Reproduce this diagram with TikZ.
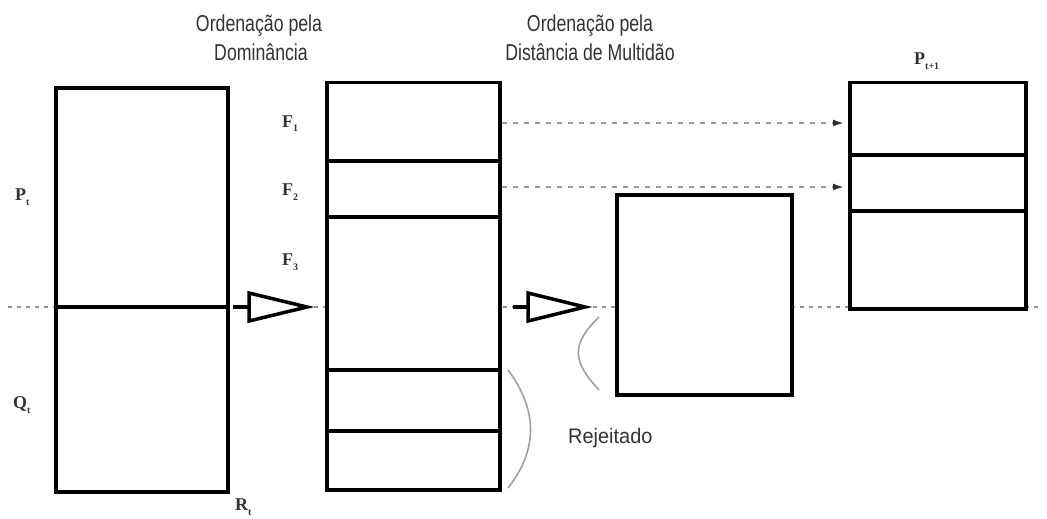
\documentclass[tikz,border=0pt]{standalone}
\usepackage{fontspec}
\setmainfont{Liberation Serif}
\setsansfont{Liberation Sans}
\usetikzlibrary{arrows.meta}

% serif label with a lowered, small index
\newcommand{\poplabel}[2]{#1\raisebox{-5pt}{\fontsize{10}{10}\selectfont #2}}
% narrow sans text
\newcommand{\narrow}[1]{\scalebox{0.77}[1]{#1}}

\begin{document}
\begin{tikzpicture}[x=1pt,y=-1pt,
  popbox/.style={draw=black,line width=3.5pt,fill=white,inner sep=0pt,
                 anchor=north west},
  divider/.style={line width=3.5pt},
  midline/.style={gray!85,line width=1.8pt,dash pattern=on 4pt off 5pt},
  copyline/.style={gray!80,line width=1.8pt,dash pattern=on 5pt off 6pt,
                   -{Latex[length=11pt,width=7pt,fill=black!80,color=black!80]},
                   shorten >=4pt},
  bigarrow/.style={line width=3.5pt,fill=white,line join=miter},
  bracket/.style={gray!75,line width=1.6pt},
  title/.style={font=\fontsize{23}{23}\selectfont\sffamily,text=black!80,
                anchor=base,inner sep=0pt},
  poplab/.style={font=\fontsize{18}{18}\selectfont\bfseries,text=black!80,
                 anchor=base west,inner sep=0pt}]
\useasboundingbox (0,0) rectangle (1047,519);

% dotted level line across the whole figure
\draw[midline] (8,307) -- (1040,307);

% union of parent and offspring populations
\node[popbox,minimum width=172pt,minimum height=404pt] (R) at (54,86) {};
\draw[divider] (54,307) -- (226,307);

% fronts after non-dominated sorting
\node[popbox,minimum width=173pt,minimum height=407pt] (F) at (325,81) {};
\foreach \y in {161,217,370,431} \draw[divider] (325,\y) -- (498,\y);

% last front, sorted by crowding distance
\node[popbox,minimum width=175pt,minimum height=200pt] (C) at (615,193) {};

% next population
\node[popbox,minimum width=176pt,minimum height=226pt] (N) at (848,81) {};
\foreach \y in {155,211} \draw[divider] (848,\y) -- (1024,\y);

% big open arrows
\coordinate (a1) at (233,307);
\coordinate (a2) at (513,307);
\draw[line width=3.5pt] (a1) -- ++(16,0);
\draw[bigarrow] ([xshift=16pt]a1) ++(0,-14) -- ++(58,14) -- ++(-58,14) -- cycle;
\draw[line width=3.5pt] (a2) -- ++(15,0);
\draw[bigarrow] ([xshift=15pt]a2) ++(0,-14) -- ++(57,14) -- ++(-57,14) -- cycle;

% copied fronts
\coordinate (f1) at (502,123);
\coordinate (f2) at (502,187);
\draw[copyline] (f1) -- (N.west |- f1);
\draw[copyline] (f2) -- (N.west |- f2);

% brackets
\draw[bracket] (508,370) .. controls (538,410) and (538,450) .. (508,488);
\draw[bracket] (599,317) .. controls (570,345) and (573,362) .. (599,390);

% titles
\node[title] (t1a) at (259,32) {\narrow{Ordenação pela}};
\node[title] (t1b) at (261,61) {\narrow{Dominância}};
\node[title] (t2a) at (590,32) {\narrow{Ordenação pela}};
\node[title] (t2b) at (590,61) {\narrow{Distância de Multidão}};
\node[font=\fontsize{21}{21}\selectfont\sffamily,text=black!80,anchor=base west,
      inner sep=0pt] (rej) at (568,443) {\scalebox{0.95}[1]{Rejeitado}};

% population labels
\node[poplab] (pt) at (15,200) {\poplabel{P}{t}};
\node[poplab] (qt) at (13,408) {\poplabel{Q}{t}};
\node[poplab] (rt) at (235,510) {\poplabel{R}{t}};
\node[poplab] (l1) at (282,127) {\poplabel{F}{1}};
\node[poplab] (l2) at (282,195) {\poplabel{F}{2}};
\node[poplab] (l3) at (282,265) {\poplabel{F}{3}};
\node[poplab] (pn) at (914,65) {\poplabel{P}{t+1}};
\end{tikzpicture}
\end{document}
